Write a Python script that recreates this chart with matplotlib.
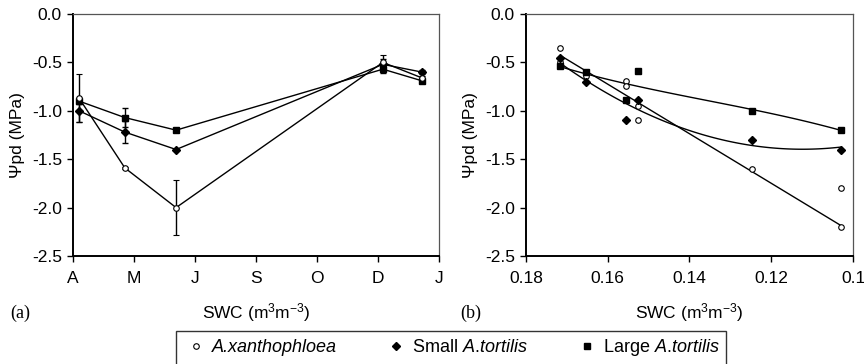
import numpy as np
import matplotlib
matplotlib.use('Agg')
import matplotlib.pyplot as plt
from matplotlib.lines import Line2D

plt.rcParams['font.family'] = ['Liberation Sans', 'DejaVu Sans']
plt.rcParams['mathtext.fontset'] = 'custom'
plt.rcParams['mathtext.rm'] = 'Liberation Sans'
plt.rcParams['mathtext.it'] = 'Liberation Sans:italic'
plt.rcParams['axes.unicode_minus'] = False

## (a) seasonal course of predawn water potential
months = ['A', 'M', 'J', 'S', 'O', 'D', 'J']
dates = [0.1, 0.85, 1.69, 5.08, 5.72]          # sampling dates, month units

xan_psi = [-0.87, -1.59, -2.0, -0.5, -0.66]
xan_err = [0.25, 0.01, 0.28, 0.08, 0.02]
small_psi = [-1.0, -1.22, -1.4, -0.52, -0.6]
small_err = [0.12, 0.11, 0.01, 0.05, 0.02]
large_psi = [-0.9, -1.07, -1.2, -0.57, -0.69]
large_err = [0.03, 0.1, 0.01, 0.04, 0.02]

## (b) predawn water potential against soil water content
xan_swc = [0.1716, 0.1716, 0.1654, 0.1556, 0.1556, 0.1525, 0.1525, 0.1246, 0.1029, 0.1029]
xan_b = [-0.35, -0.5, -0.64, -0.69, -0.74, -0.95, -1.1, -1.6, -1.8, -2.2]
xan_in_fit = [1, 1, 1, 1, 1, 1, 1, 1, 0, 1]     # -1.8 left out of the regression
small_swc = [0.1716, 0.1654, 0.1556, 0.1525, 0.1246, 0.1029]
small_b = [-0.45, -0.7, -1.1, -0.89, -1.3, -1.4]
large_swc = [0.1716, 0.1654, 0.1556, 0.1525, 0.1246, 0.1029]
large_b = [-0.54, -0.6, -0.89, -0.59, -1.0, -1.2]

swc_ticks = [0.18, 0.16, 0.14, 0.12, 0.10]
swc_labels = ['0.18', '0.16', '0.14', '0.12', '0.1']
psi_ticks = [0.0, -0.5, -1.0, -1.5, -2.0, -2.5]

circ = dict(marker='o', ms=4, mfc='white', mec='black', mew=0.8)
diam = dict(marker='D', ms=4.2, mfc='black', mec='black')
sqr = dict(marker='s', ms=5, mfc='black', mec='black')

fig = plt.figure(figsize=(8.64, 3.64), dpi=100, facecolor='white')
axA = fig.add_axes([73/864, 1-256/364, 366/864, 242/364])
axB = fig.add_axes([526/864, 1-256/364, 327/864, 242/364])


def style(ax):
    ax.set_ylim(-2.5, 0)
    ax.set_yticks(psi_ticks)
    ax.set_yticklabels(['%.1f' % v for v in psi_ticks])
    for s in ['left', 'bottom']:
        ax.spines[s].set_linewidth(1.4)
        ax.spines[s].set_color('black')
    for s in ['top', 'right']:
        ax.spines[s].set_linewidth(0.9)
        ax.spines[s].set_color('#555555')
    ax.tick_params(direction='out', length=4, width=1, labelsize=12.5)
    ax.tick_params(axis='x', pad=6.5)
    ax.tick_params(axis='y', pad=4)
    ax.set_ylabel('\u03a8pd (MPa)', fontsize=12.5, labelpad=5)
    ax.set_xlabel(r'SWC (m$^3$m$^{-3}$)', fontsize=12.5, labelpad=11.5)


ekw = dict(color='black', lw=1, capsize=2.5, elinewidth=1, capthick=1)
axA.errorbar(dates, large_psi, yerr=large_err, **sqr, **ekw)
axA.errorbar(dates, small_psi, yerr=small_err, **diam, **ekw)
axA.errorbar(dates, xan_psi, yerr=xan_err, **circ, **ekw)
axA.set_xlim(0, 6)
axA.set_xticks(range(len(months)))
axA.set_xticklabels(months)
style(axA)

# points with fitted trend lines
xs = np.array(xan_swc)
ys = np.array(xan_b)
keep = np.array(xan_in_fit) == 1
fits = [(xs[keep], ys[keep], 1), (small_swc, small_b, 2), (large_swc, large_b, 3)]
for fx, fy, deg in fits:
    coef = np.polyfit(fx, fy, deg)
    xx = np.linspace(min(fx), max(fx), 100)
    axB.plot(xx, np.polyval(coef, xx), color='black', lw=1)
axB.plot(xan_swc, xan_b, ls='none', **circ)
axB.plot(small_swc, small_b, ls='none', **diam)
axB.plot(large_swc, large_b, ls='none', **sqr)
axB.set_xlim(0.18, 0.10)
axB.set_xticks(swc_ticks)
axB.set_xticklabels(swc_labels)
style(axB)

fig.text(20/864, 1-313/364, '(a)', family='Liberation Serif', fontsize=13,
         ha='center', va='center')
fig.text(471/864, 1-313/364, '(b)', family='Liberation Serif', fontsize=13,
         ha='center', va='center')

handles = [Line2D([], [], ls='none', **circ),
           Line2D([], [], ls='none', **diam),
           Line2D([], [], ls='none', **sqr)]
labels = ['A.xanthophloea', r'Small $\mathit{A.\!tortilis}$',
          r'Large $\mathit{A.\!tortilis}$']
leg = fig.legend(handles, labels, loc='center', bbox_to_anchor=(451/864, 1-348/364),
                 ncol=3, fontsize=13, frameon=True, fancybox=False,
                 handlelength=1.6, handletextpad=0.05, columnspacing=2.5,
                 borderpad=0.35, borderaxespad=0)
leg.get_texts()[0].set_fontstyle('italic')
leg.get_frame().set_edgecolor('black')
leg.get_frame().set_linewidth(1)

fig.savefig('out.png', dpi=100, facecolor='white')
